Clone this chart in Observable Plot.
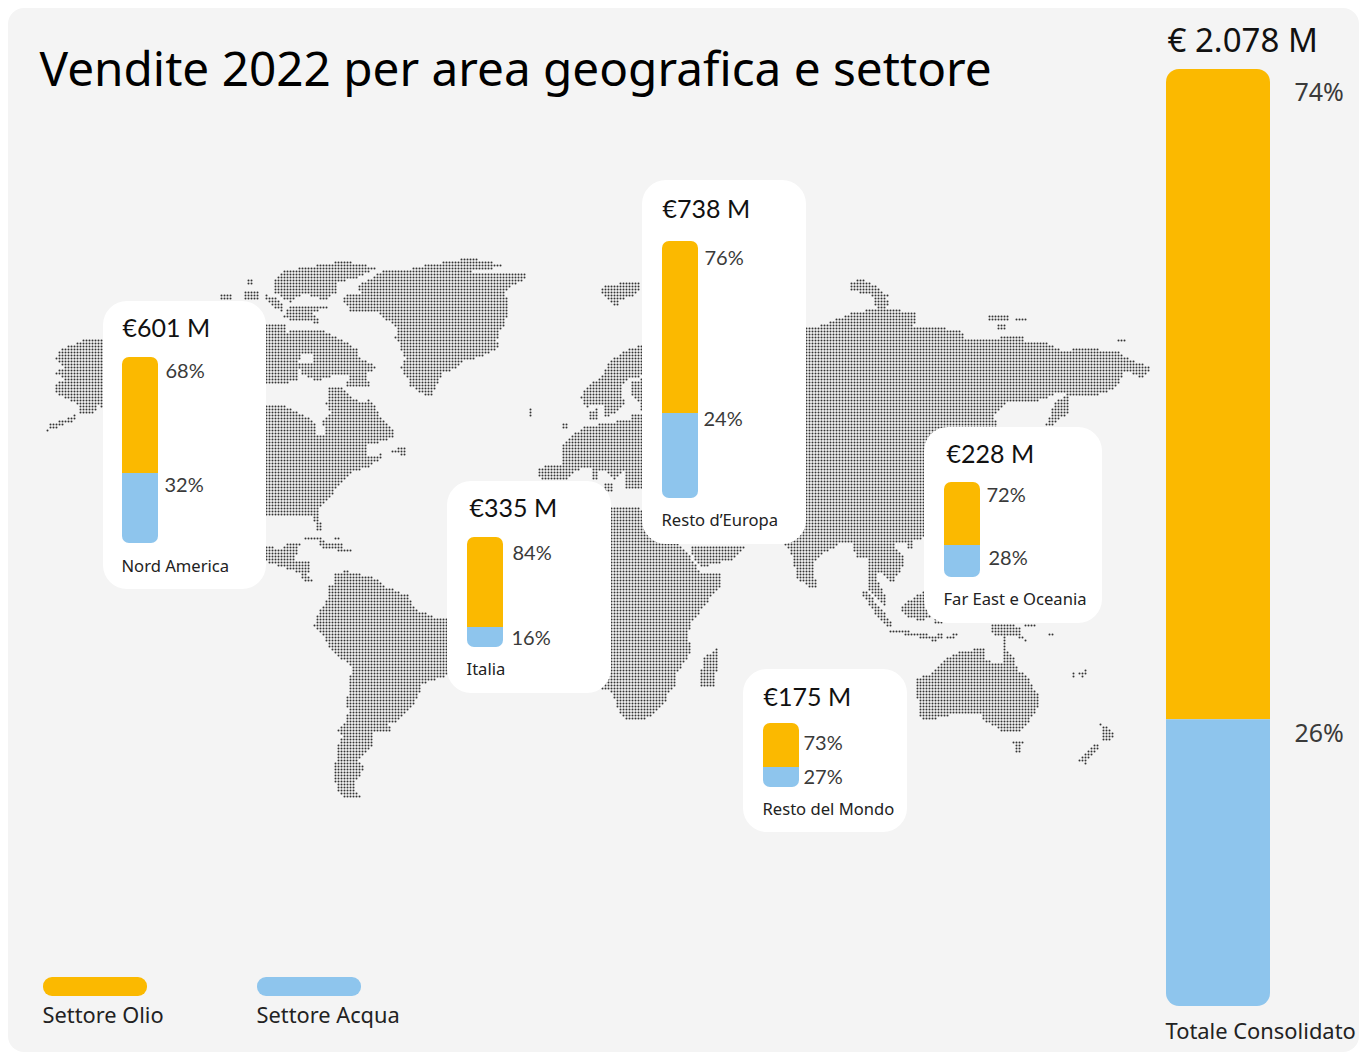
<!DOCTYPE html>
<html lang="it">
<head>
<meta charset="utf-8">
<title>Vendite 2022 per area geografica e settore</title>
<script src="https://cdn.jsdelivr.net/npm/d3@7"></script>
<script src="https://cdn.jsdelivr.net/npm/@observablehq/plot@0.6"></script>
<style>
html,body{margin:0;padding:0;background:#fff;}
svg{display:block;}
</style>
</head>
<body>
<div id="chart"></div>
<script>
// ---- chart values ----
const chartTitle = "Vendite 2022 per area geografica e settore";
const regions = ["Nord America", "Resto d’Europa", "Italia", "Far East e Oceania", "Resto del Mondo", "Totale Consolidato"];
const salesLabels = ["€601 M", "€738 M", "€335 M", "€228 M", "€175 M", "€ 2.078 M"];
const oilLabels = ["68%", "76%", "84%", "72%", "73%", "74%"];
const waterLabels = ["32%", "24%", "16%", "28%", "27%", "26%"];
// share of each bar painted as oil (%)
const oilBarShare = [62.4, 66.9, 81.8, 66.3, 68.8, 69.4];
const sectors = ["Settore Olio", "Settore Acqua"];
const sectorColors = ["#fbb900", "#8ec5ed"];

// ---- layout of the panels (picture units) ----
const panels = [
  {x1:103, x2:266, y1:301, y2:589},
  {x1:642, x2:806, y1:180, y2:544},
  {x1:447, x2:611, y1:481, y2:693},
  {x1:924, x2:1102, y1:427, y2:623},
  {x1:743, x2:907, y1:669, y2:832}
];
const barBoxes = [
  {x:122, w:36, top:357, bottom:543, r:7},
  {x:662, w:36, top:241, bottom:498, r:7},
  {x:467, w:36, top:537, bottom:647, r:7},
  {x:944, w:36, top:482, bottom:577, r:7},
  {x:763, w:36, top:723, bottom:787, r:7},
  {x:1166, w:104, top:69, bottom:1006, r:13}
];
const salesAt = [[122,328],[662,209],[469,508],[946,454],[763,697],[1167,41]];
const oilAt = [[165,371],[704,258],[512,553],[986,495],[803,743],[1294,92]];
const waterAt = [[164,485],[703,419],[511,638],[988,558],[803,777],[1294,733]];
const nameAt = [[121,566],[661,520],[466,669],[943,599],[762,809],[1165,1031]];
const legendAt = [[43,147,977,996,1016],[257,361,977,996,1016]];

// ---- dot-matrix world map: land outlines on a picture-unit grid ----
const land = [
 // Alaska
 [[83,340],[120,340],[120,425],[98,405],[92,415],[77,413],[75,420],[46,431],[50,424],[73,415],[80,410],[75,403],[55,393],[55,383],[65,378],[52,372],[63,367],[55,357],[63,347]],
 // Arctic islands
 [[283,270],[317,265],[343,260],[377,267],[363,275],[337,283],[335,293],[323,300],[303,293],[290,302],[273,292],[272,282]],
 [[290,307],[327,307],[313,313],[320,323],[280,318],[287,310]],
 [[221,293],[231,293],[231,300],[221,300]],
 [[243,292],[260,292],[260,300],[245,300]],
 [[248,279],[254,279],[254,284],[248,284]],
 [[263,293],[280,300],[285,313],[270,305]],
 // Greenland
 [[470,257],[487,261],[503,264],[493,268],[473,271],[527,273],[525,278],[508,288],[505,293],[508,307],[505,323],[500,330],[497,340],[498,345],[495,350],[480,357],[463,360],[457,368],[443,373],[435,387],[432,397],[420,393],[410,385],[407,377],[400,368],[405,357],[400,350],[400,343],[395,337],[397,330],[393,323],[385,320],[380,313],[350,310],[342,300],[345,295],[360,292],[357,285],[375,275],[383,270],[402,270],[412,268],[423,265],[447,261]],
 // North Canada
 [[262,325],[285,325],[286,335],[290,329],[320,328],[340,338],[358,350],[358,357],[377,367],[367,373],[369,387],[345,385],[350,373],[323,377],[317,382],[300,372],[298,363],[314,363],[314,353],[300,353],[297,372],[297,380],[280,384],[262,384]],
 // Canada south, USA
 [[262,403],[283,405],[313,420],[317,433],[325,435],[322,420],[330,413],[326,403],[327,387],[340,387],[360,403],[370,399],[383,420],[395,430],[395,437],[368,445],[368,457],[383,453],[380,458],[367,467],[350,473],[335,490],[327,500],[318,507],[318,515],[322,525],[322,532],[316,532],[313,518],[310,516],[292,516],[268,517],[262,517]],
 [[398,447],[405,447],[405,455],[388,452]],
 // Mexico, Central America
 [[262,545],[280,548],[290,542],[300,542],[298,552],[293,562],[310,562],[310,573],[303,572],[312,578],[312,583],[304,580],[298,572],[280,566],[268,562],[262,562]],
 // Caribbean
 [[305,536],[321,536],[326,542],[342,543],[342,548],[322,548],[318,541],[305,541]],
 [[335,536],[341,536],[341,541],[335,541]],
 [[338,548],[353,548],[353,552],[338,552]],
 // South America
 [[333,583],[335,573],[345,570],[355,573],[373,577],[380,580],[387,587],[400,592],[408,595],[413,605],[417,610],[428,613],[435,617],[470,618],[470,667],[440,678],[422,683],[417,697],[413,705],[403,715],[397,722],[388,723],[392,727],[387,733],[373,733],[373,742],[370,748],[363,755],[358,760],[365,767],[358,777],[353,785],[357,793],[365,799],[345,799],[338,790],[335,783],[335,763],[338,757],[338,743],[342,737],[338,730],[345,723],[345,717],[348,710],[345,703],[348,690],[351,667],[342,659],[333,653],[327,643],[320,632],[314,625],[318,610],[325,603],[328,593],[327,585]],
 // Svalbard and small North Atlantic islands
 [[600,287],[620,283],[641,283],[641,290],[632,296],[618,300],[617,307],[608,300],[600,292]],
 [[529,409],[533,409],[533,416],[529,416]],
 [[561,423],[568,423],[568,428],[561,428]],
 // Scandinavia, Finland, Baltic
 [[650,343],[633,347],[620,353],[610,360],[605,370],[600,377],[590,383],[582,390],[581,397],[585,407],[602,403],[605,417],[615,412],[625,402],[620,393],[622,383],[630,377],[650,375]],
 [[650,378],[632,380],[630,392],[638,402],[640,410],[650,410]],
 [[650,412],[632,415],[628,425],[650,430]],
 [[590,410],[597,408],[597,420],[590,420]],
 // Continental Europe
 [[650,418],[620,420],[583,427],[572,435],[562,443],[563,463],[538,467],[537,472],[540,480],[567,480],[577,470],[588,467],[592,468],[593,480],[597,478],[598,472],[606,472],[613,480],[620,475],[625,466],[625,488],[640,488],[650,480]],
 [[605,484],[613,484],[613,492],[605,492]],
 // Africa
 [[590,505],[611,507],[635,505],[660,520],[682,547],[690,557],[697,568],[702,572],[722,573],[720,585],[703,607],[690,623],[688,637],[692,650],[677,673],[677,683],[668,692],[665,703],[647,718],[627,721],[620,713],[613,697],[610,690],[600,690]],
 // Arabia
 [[690,545],[745,545],[743,550],[730,560],[701,567],[693,557]],
 // Madagascar
 [[718,646],[719,660],[713,686],[700,687],[700,673],[703,658]],
 // Asia
 [[700,330],[813,327],[833,320],[850,313],[877,307],[915,312],[915,322],[910,327],[930,328],[947,328],[965,332],[965,340],[1000,337],[1023,335],[1023,340],[1047,342],[1058,348],[1063,350],[1083,348],[1115,350],[1128,358],[1152,368],[1140,378],[1125,370],[1122,375],[1117,387],[1090,397],[1070,395],[1060,392],[1033,402],[1007,400],[993,415],[997,425],[1000,470],[990,530],[935,530],[925,537],[912,540],[912,549],[907,550],[905,541],[893,545],[903,555],[903,565],[892,582],[880,572],[874,575],[885,595],[885,605],[868,590],[868,570],[867,557],[857,557],[850,541],[842,542],[823,553],[813,563],[815,578],[817,589],[810,588],[802,582],[797,577],[790,550],[783,542],[700,540]],
 // Novaya Zemlya and Arctic Siberian islands
 [[850,283],[860,277],[872,283],[880,290],[890,295],[885,300],[877,302],[870,295],[850,290]],
 [[874,300],[890,298],[886,310],[876,310]],
 [[988,314],[1010,314],[1010,320],[988,320]],
 [[1015,316],[1028,318],[1028,321],[1015,319]],
 [[1117,339],[1127,339],[1127,343],[1117,343]],
 [[997,324],[1007,324],[1007,329],[997,329]],
 // Sakhalin, Japan
 [[1068,396],[1067,413],[1047,428],[1045,425],[1050,413],[1056,398]],
 // Sumatra, Java, Borneo, New Guinea
 [[860,591],[867,592],[883,610],[892,625],[887,627],[875,613],[867,602]],
 [[890,628],[910,631],[935,635],[936,641],[910,635],[890,632]],
 [[902,605],[920,593],[923,590],[925,607],[930,617],[923,620],[907,618],[902,612]],
 [[932,617],[943,617],[943,623],[935,623]],
 [[935,632],[943,632],[943,640],[936,640]],
 [[945,637],[952,634],[958,634],[950,640]],
 [[990,625],[1013,623],[1020,628],[1020,633],[1028,642],[1018,637],[1000,637],[990,633]],
 [[1025,625],[1035,625],[1035,628],[1025,628]],
 [[1048,634],[1054,634],[1054,637],[1048,637]],
 // Australia, Tasmania
 [[967,650],[986,647],[985,658],[993,663],[1002,663],[1002,637],[1005,637],[1005,648],[1013,657],[1017,670],[1026,675],[1032,685],[1038,695],[1037,707],[1028,723],[1020,732],[1003,733],[993,725],[982,720],[980,713],[957,712],[943,717],[923,720],[920,717],[920,708],[915,693],[917,678],[933,672],[943,660],[955,653]],
 [[1012,741],[1023,741],[1020,752],[1015,752]],
 // New Zealand and New Caledonia
 [[1098,721],[1115,732],[1110,740],[1100,740],[1103,730]],
 [[1097,742],[1100,745],[1090,757],[1085,764],[1079,760],[1085,753]],
 [[1070,671],[1075,671],[1076,679],[1071,679]],
 [[1079,673],[1087,667],[1087,672],[1081,677]]
];

// Keep a map cell when its centre falls on land
const cellStep = 3;
const mapCells = [];
for (let cy = 256; cy <= 800; cy += cellStep) {
  for (let cx = 44; cx <= 1153; cx += cellStep) {
    if (land.some(shape => d3.polygonContains(shape, [cx, cy]))) mapCells.push({cx, cy});
  }
}

// ---- tables built from the lists above ----
const oilSegments = regions.map((region, i) => {
  const b = barBoxes[i];
  return {x1:b.x, x2:b.x+b.w, y1:b.top, y2:b.top+(b.bottom-b.top)*oilBarShare[i]/100, r:b.r};
});
const waterSegments = regions.map((region, i) => {
  const b = barBoxes[i];
  return {x1:b.x, x2:b.x+b.w, y1:b.top+(b.bottom-b.top)*oilBarShare[i]/100, y2:b.bottom, r:b.r};
});
const labelRows = (texts, at) => texts.map((t, i) => ({t, x:at[i][0], y:at[i][1], big:i === 5}));

const notoFont = "'Noto Sans', sans-serif";
const latoFont = "Lato, sans-serif";
const small = d => !d.big;
const big = d => d.big;
const textMark = (rows, opts) => Plot.text(rows, {x:"x", y:"y", text:"t", textAnchor:"start", lineAnchor:"middle", ...opts});

const chart = Plot.plot({
  width: 1359,
  height: 1052,
  margin: 0,
  x: {domain:[0,1359], range:[0,1359], axis:null},
  y: {domain:[0,1052], range:[0,1052], axis:null},
  style: {background:"#fff", fontFamily:notoFont},
  marks: [
    Plot.rect([{x1:8, x2:1359, y1:8, y2:1052}], {x1:"x1", x2:"x2", y1:"y1", y2:"y2", fill:"#f4f4f4", rx:16, ry:16}),
    Plot.dot(mapCells, {x:"cx", y:"cy", r:1, fill:"#333", stroke:"none"}),
    Plot.rect(panels, {x1:"x1", x2:"x2", y1:"y1", y2:"y2", fill:"#fff", rx:24, ry:24}),
    Plot.rect(oilSegments.slice(0,5), {x1:"x1", x2:"x2", y1:"y1", y2:"y2", fill:sectorColors[0], rx1y1:7, rx2y1:7}),
    Plot.rect(waterSegments.slice(0,5), {x1:"x1", x2:"x2", y1:"y1", y2:"y2", fill:sectorColors[1], rx1y2:7, rx2y2:7}),
    Plot.rect(oilSegments.slice(5), {x1:"x1", x2:"x2", y1:"y1", y2:"y2", fill:sectorColors[0], rx1y1:13, rx2y1:13}),
    Plot.rect(waterSegments.slice(5), {x1:"x1", x2:"x2", y1:"y1", y2:"y2", fill:sectorColors[1], rx1y2:13, rx2y2:13}),
    Plot.rect(legendAt, {x1:d=>d[0], x2:d=>d[1], y1:d=>d[2], y2:d=>d[3], fill:(d,i)=>sectorColors[i], rx:9, ry:9}),
    textMark([{t:chartTitle, x:39, y:70}], {fontSize:47.7, fill:"#000"}),
    textMark(labelRows(salesLabels, salesAt).filter(small), {fontSize:25, fontFamily:latoFont, fill:"#111"}),
    textMark(labelRows(salesLabels, salesAt).filter(big), {fontSize:33, fill:"#111"}),
    textMark(labelRows(oilLabels, oilAt).filter(small), {fontSize:20, fontFamily:latoFont, fill:"#3a3a3a"}),
    textMark(labelRows(waterLabels, waterAt).filter(small), {fontSize:20, fontFamily:latoFont, fill:"#3a3a3a"}),
    textMark(labelRows(oilLabels, oilAt).filter(big), {fontSize:25, fill:"#3a3a3a"}),
    textMark(labelRows(waterLabels, waterAt).filter(big), {fontSize:25, fill:"#3a3a3a"}),
    textMark(labelRows(regions, nameAt).filter(small), {fontSize:16.6, fill:"#222"}),
    textMark(labelRows(regions, nameAt).filter(big), {fontSize:21.9, fill:"#222"}),
    textMark(sectors.map((t, i) => ({t, x:legendAt[i][0] - 1, y:legendAt[i][4]})), {fontSize:21.8, fill:"#222"})
  ]
});
document.getElementById("chart").append(chart);
</script>
</body>
</html>
